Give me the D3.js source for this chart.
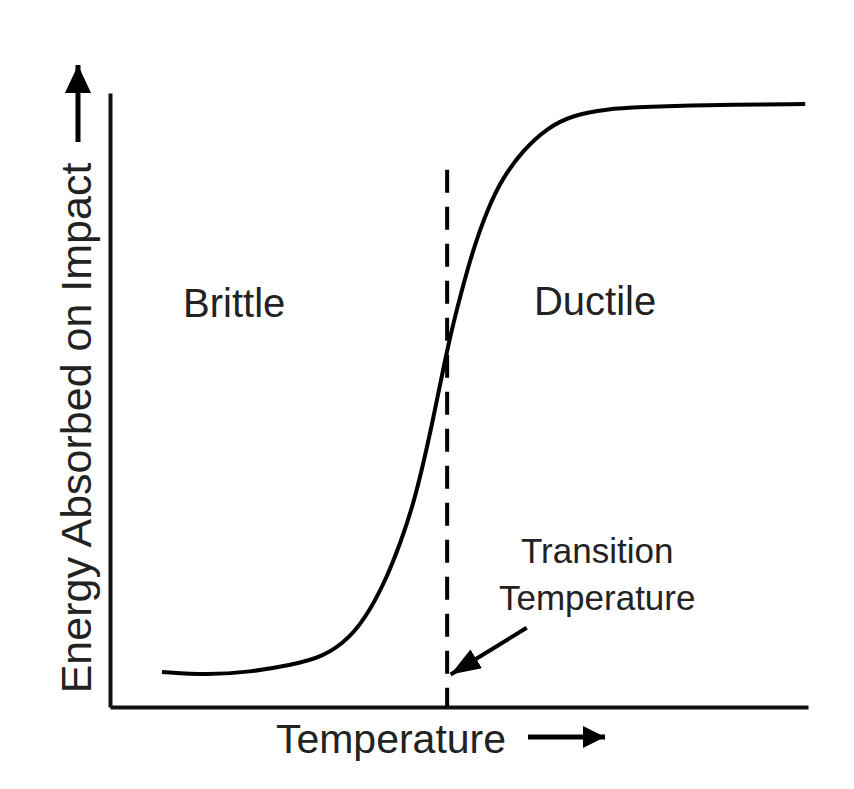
<!DOCTYPE html>
<html>
<head>
<meta charset="utf-8">
<script src="https://cdn.jsdelivr.net/npm/d3@7"></script>
<style>
  html, body { margin: 0; padding: 0; background: #fff; }
  svg { display: block; font-family: "Liberation Sans", Arial, sans-serif; }
</style>
</head>
<body>
<svg id="chart"></svg>
<script>
// Curve (arbitrary 0-100 units on both axes)
const temperature = [7.45, 13.9, 20.1, 25.8, 30.5, 34.4, 37.3, 39.7, 41.6, 43.7, 46.3, 48.4, 50.4, 52.0, 54.0, 56.3, 59.2, 62.6, 66.3, 71.2, 75.9, 84.5, 99.6];
const energy      = [5.7, 5.2, 5.7, 6.8, 8.1, 11.2, 15.8, 21.2, 26.7, 33.7, 46.7, 59.0, 67.9, 74.4, 80.9, 86.3, 90.7, 94.3, 96.4, 97.4, 97.7, 98.05, 98.2];

// Transition temperature marker
const transitionTemp = 48.3;
const transitionTop = 87.5;

// Text labels
const regionLabels = ['Brittle', 'Ductile'];
const regionTemp = [17.8, 69.5];
const regionEnergy = [63.5, 63.8];
const noteLines = ['Transition', 'Temperature'];
const noteTemp = 69.8;
const noteEnergy = [23.5, 15.8];
const arrowFrom = [59.7, 12.9];
const arrowTo = [48.8, 5.3];
const xTitle = 'Temperature';
const yTitle = 'Energy Absorbed on Impact';

const width = 854;
const height = 789;
const padding = {
  top: 93,
  right: 46,
  bottom: 82,
  left: 110
};

const svg = d3.select('#chart')
  .attr('width', width)
  .attr('height', height);

const xScale = d3.scaleLinear()
  .domain([0, 100])
  .range([padding.left, width - padding.right]);

const yScale = d3.scaleLinear()
  .domain([0, 100])
  .range([height - padding.bottom, padding.top]);

// arrowheads
const defs = svg.append('defs');
function head(id, w, l) {
  defs.append('marker')
    .attr('id', id)
    .attr('markerUnits', 'userSpaceOnUse')
    .attr('markerWidth', l)
    .attr('markerHeight', w)
    .attr('refX', l)
    .attr('refY', w / 2)
    .attr('orient', 'auto')
    .append('path')
    .attr('d', `M0,0L${l},${w / 2}L0,${w}Z`)
    .attr('fill', '#000');
}
head('bigHead', 26, 28);
head('smallHead', 22, 22);
head('noteHead', 22, 30);

// axes, without ticks
svg.append('g')
  .attr('transform', `translate(0, ${yScale(0)})`)
  .call(d3.axisBottom(xScale).tickValues([]).tickSizeOuter(0))
  .call(g => g.select('.domain').attr('stroke-width', 4).attr('stroke', '#111'));

svg.append('g')
  .attr('transform', `translate(${xScale(0)}, 0)`)
  .call(d3.axisLeft(yScale).tickValues([]).tickSizeOuter(0))
  .call(g => g.select('.domain').attr('stroke-width', 4).attr('stroke', '#111'));

// dashed transition line
svg.append('line')
  .attr('x1', xScale(transitionTemp))
  .attr('x2', xScale(transitionTemp))
  .attr('y1', yScale(transitionTop))
  .attr('y2', yScale(0))
  .attr('stroke', '#000')
  .attr('stroke-width', 4)
  .attr('stroke-dasharray', '23 14');

// the curve
const points = temperature.map((t, i) => [t, energy[i]]);
const line = d3.line()
  .x(d => xScale(d[0]))
  .y(d => yScale(d[1]))
  .curve(d3.curveBasis);

svg.append('path')
  .datum(points)
  .attr('d', line)
  .attr('fill', 'none')
  .attr('stroke', '#000')
  .attr('stroke-width', 4);

// region labels
svg.selectAll('.region')
  .data(regionLabels)
  .join('text')
  .attr('class', 'region')
  .attr('x', (d, i) => xScale(regionTemp[i]))
  .attr('y', (d, i) => yScale(regionEnergy[i]))
  .attr('text-anchor', 'middle')
  .attr('font-size', 40)
  .attr('fill', '#222')
  .text(d => d);

// transition note
svg.selectAll('.note')
  .data(noteLines)
  .join('text')
  .attr('class', 'note')
  .attr('x', xScale(noteTemp))
  .attr('y', (d, i) => yScale(noteEnergy[i]))
  .attr('text-anchor', 'middle')
  .attr('font-size', 35)
  .attr('fill', '#222')
  .text(d => d);

svg.append('line')
  .attr('x1', xScale(arrowFrom[0]))
  .attr('y1', yScale(arrowFrom[1]))
  .attr('x2', xScale(arrowTo[0]))
  .attr('y2', yScale(arrowTo[1]))
  .attr('stroke', '#000')
  .attr('stroke-width', 4)
  .attr('marker-end', 'url(#noteHead)');

// axis titles with arrows
svg.append('text')
  .attr('x', 391)
  .attr('y', height - 36)
  .attr('text-anchor', 'middle')
  .attr('font-size', 41)
  .attr('fill', '#222')
  .text(xTitle);

svg.append('line')
  .attr('x1', 528)
  .attr('x2', 605)
  .attr('y1', height - 52)
  .attr('y2', height - 52)
  .attr('stroke', '#000')
  .attr('stroke-width', 5)
  .attr('marker-end', 'url(#smallHead)');

svg.append('text')
  .attr('transform', `translate(91, 428) rotate(-90)`)
  .attr('text-anchor', 'middle')
  .attr('font-size', 43)
  .attr('fill', '#222')
  .text(yTitle);

svg.append('line')
  .attr('x1', 78)
  .attr('x2', 78)
  .attr('y1', 142)
  .attr('y2', 65)
  .attr('stroke', '#000')
  .attr('stroke-width', 5)
  .attr('marker-end', 'url(#bigHead)');
</script>
</body>
</html>
